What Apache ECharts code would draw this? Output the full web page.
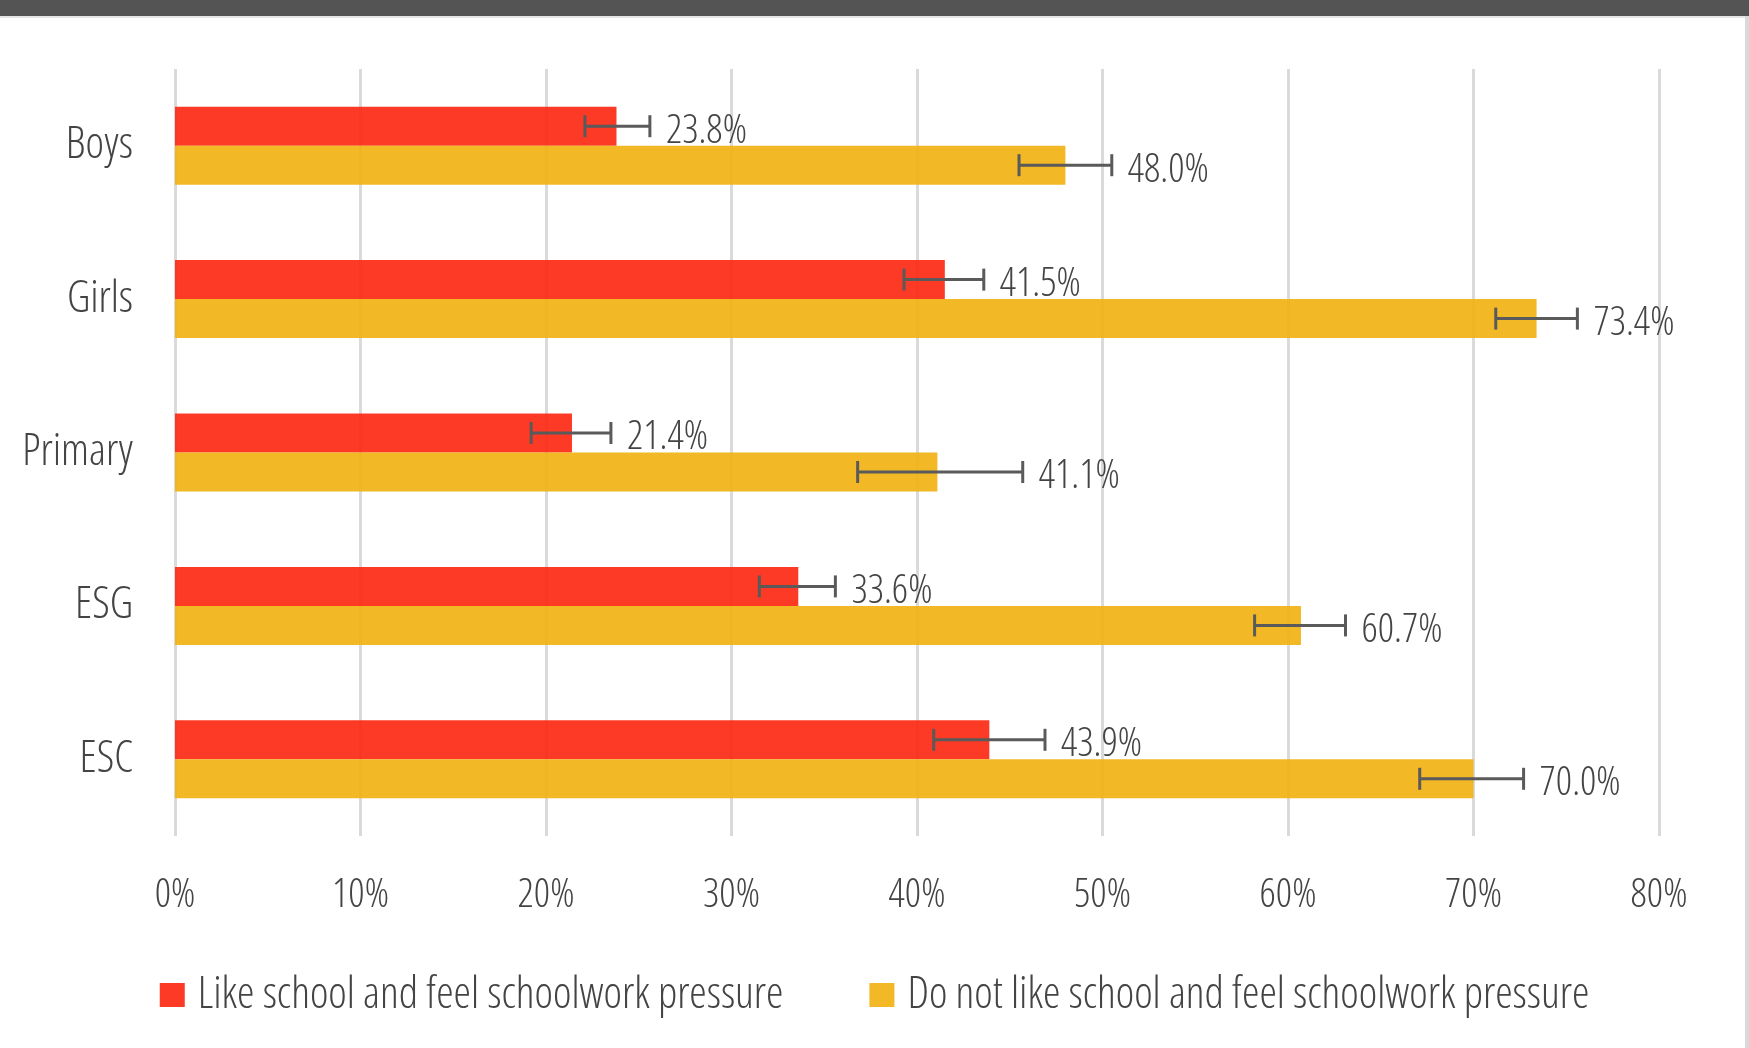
<!DOCTYPE html>
<html>
<head>
<meta charset="utf-8">
<script src="https://cdn.jsdelivr.net/npm/echarts@6/dist/echarts.min.js"></script>
<style>
html,body{margin:0;padding:0;background:#fff;}
#chart{width:1749px;height:1048px;}
</style>
</head>
<body>
<div id="chart"></div>
<script>
// ---- data ----
const categories = ['Boys', 'Girls', 'Primary', 'ESG', 'ESC'];
const seriesNames = ['Like school and feel schoolwork pressure', 'Do not like school and feel schoolwork pressure'];
const likeValues = [23.8, 41.5, 21.4, 33.6, 43.9];
const dislikeValues = [48.0, 73.4, 41.1, 60.7, 70.0];
const likeLow = [22.1, 39.3, 19.2, 31.5, 40.9];
const likeHigh = [25.6, 43.6, 23.5, 35.6, 46.9];
const dislikeLow = [45.5, 71.2, 36.8, 58.2, 67.1];
const dislikeHigh = [50.5, 75.6, 45.7, 63.1, 72.7];
const xMin = 0, xMax = 80, xInterval = 10;

// ---- styling ----
const FONT = '"Open Sans", "Liberation Sans Narrow", sans-serif';
const FW = '300 condensed';
const BAR_W = 39;
const COLORS = ['rgba(252,41,19,0.92)', 'rgba(241,178,20,0.92)'];

function errRender(offset) {
  return function (params, api) {
    const idx = api.value(0);
    const lo = api.coord([api.value(1), idx]);
    const hi = api.coord([api.value(2), idx]);
    const y = lo[1] + offset;
    const cap = 11;
    const st = { stroke: '#5a5a5a', lineWidth: 3 };
    return {
      type: 'group',
      children: [
        { type: 'line', shape: { x1: lo[0], y1: y, x2: hi[0], y2: y }, style: st },
        { type: 'line', shape: { x1: lo[0], y1: y - cap, x2: lo[0], y2: y + cap }, style: st },
        { type: 'line', shape: { x1: hi[0], y1: y - cap, x2: hi[0], y2: y + cap }, style: st },
        {
          type: 'text', x: hi[0] + 16, y: y + 5,
          style: {
            text: api.value(3).toFixed(1) + '%',
            fill: '#444444', fontSize: 40, fontFamily: FONT, fontWeight: FW,
            align: 'left', verticalAlign: 'middle'
          }
        }
      ]
    };
  };
}

const chart = echarts.init(document.getElementById('chart'), null, { renderer: 'canvas' });
chart.setOption({
  backgroundColor: '#ffffff',
  animation: false,
  graphic: [
    { type: 'rect', left: 0, top: 0, shape: { width: 1749, height: 16 }, style: { fill: '#545454' }, silent: true },
    { type: 'rect', left: 0, top: 16, shape: { width: 1749, height: 2 }, style: { fill: '#e6e6e6' }, silent: true },
    { type: 'rect', left: 1745, top: 16, shape: { width: 4, height: 1032 }, style: { fill: '#d9d9d9' }, silent: true }
  ],
  grid: { left: 175, right: 90, top: 69, bottom: 212, containLabel: false, outerBoundsMode: 'none' },
  xAxis: {
    type: 'value', min: xMin, max: xMax, interval: xInterval,
    axisLine: { show: false }, axisTick: { show: false },
    splitLine: { show: true, lineStyle: { color: '#dadada', width: 3 } },
    axisLabel: { formatter: '{value}%', fontSize: 40, fontFamily: FONT, fontWeight: FW, color: '#444444', margin: 40 }
  },
  yAxis: {
    type: 'category', data: categories, inverse: true,
    axisLine: { show: false }, axisTick: { show: false },
    axisLabel: { fontSize: 44, fontFamily: FONT, fontWeight: FW, color: '#444444', margin: 42 }
  },
  legend: {
    data: seriesNames,
    left: 'center', top: 968,
    itemWidth: 25, itemHeight: 24, itemGap: 86, icon: 'rect',
    textStyle: { fontSize: 44, fontFamily: FONT, fontWeight: FW, color: '#444444', padding: [0, 0, 0, 8] }
  },
  series: [
    { name: seriesNames[0], type: 'bar', data: likeValues, barWidth: BAR_W, barGap: '0%', itemStyle: { color: COLORS[0] }, z: 2 },
    { name: seriesNames[1], type: 'bar', data: dislikeValues, barWidth: BAR_W, barGap: '0%', itemStyle: { color: COLORS[1] }, z: 2 },
    {
      name: 'err1', type: 'custom', renderItem: errRender(-BAR_W / 2), z: 5,
      encode: { x: [1, 2], y: 0 },
      data: categories.map((c, i) => [i, likeLow[i], likeHigh[i], likeValues[i]])
    },
    {
      name: 'err2', type: 'custom', renderItem: errRender(BAR_W / 2), z: 5,
      encode: { x: [1, 2], y: 0 },
      data: categories.map((c, i) => [i, dislikeLow[i], dislikeHigh[i], dislikeValues[i]])
    }
  ]
});
</script>
</body>
</html>
